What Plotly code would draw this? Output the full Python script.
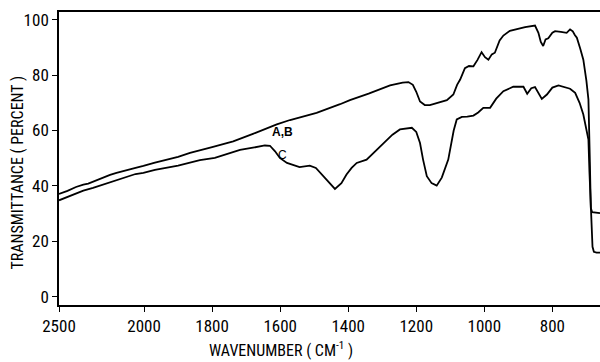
import plotly.graph_objects as go

# ---- data (wavenumber in cm^-1, transmittance in %) ----
wn_ab = [2500, 2450, 2400, 2357, 2328, 2300, 2250, 2200, 2162, 2100, 2050, 2004,
         1968, 1900, 1865, 1800, 1738, 1680, 1610, 1571, 1493, 1424, 1395, 1340,
         1277, 1240, 1223, 1210, 1200, 1189, 1175, 1160, 1130, 1110, 1091, 1080,
         1071, 1057, 1045, 1032, 1020, 1008, 998, 988, 978, 969, 955, 944, 925,
         905, 880, 851, 846, 841, 834, 827, 820, 812, 800, 792, 775, 758, 748,
         740, 734, 728, 718, 709, 700, 694, 690, 687, 683, 675, 660]
t_ab = [37.1, 38.2, 39.6, 40.5, 40.8, 41.5, 42.8, 44.0, 44.7, 45.8, 46.5, 47.2,
        48.4, 50.5, 51.9, 54.0, 56.1, 58.8, 62.2, 63.8, 66.4, 69.5, 71.0, 73.3,
        76.3, 77.3, 77.5, 76.5, 74.0, 70.5, 69.2, 69.2, 70.2, 71.0, 73.0, 76.5,
        78.4, 82.5, 83.3, 83.2, 85.5, 88.3, 86.5, 85.6, 87.5, 88.1, 92.5, 94.3,
        96.0, 96.7, 97.3, 97.9, 96.8, 95.3, 92.0, 90.5, 92.9, 93.3, 95.3, 95.9,
        95.6, 95.3, 96.5, 95.8, 94.5, 93.5, 89.5, 85.6, 78.0, 71.2, 50.0, 32.0,
        30.5, 30.3, 30.2]

wn_c = [2500, 2450, 2400, 2357, 2300, 2250, 2200, 2162, 2100, 2050, 2004, 1968,
        1900, 1836, 1792, 1750, 1718, 1680, 1645, 1630, 1615, 1601, 1580, 1543,
        1513, 1495, 1478, 1460, 1439, 1420, 1405, 1390, 1375, 1346, 1320, 1297,
        1270, 1248, 1213, 1200, 1189, 1180, 1169, 1155, 1140, 1125, 1106, 1090,
        1081, 1066, 1050, 1032, 1018, 1003, 983, 965, 944, 915, 885, 874, 862,
        851, 842, 831, 816, 800, 782, 765, 748, 733, 720, 709, 699, 694, 691,
        686, 682, 678, 670, 660]
t_c = [34.8, 36.0, 37.3, 38.3, 39.3, 40.3, 41.3, 42.3, 43.5, 44.3, 44.7, 45.8,
       47.3, 49.3, 50.1, 51.8, 53.0, 53.8, 54.6, 54.5, 52.5, 50.1, 48.3, 46.8,
       47.3, 46.5, 44.1, 41.5, 38.9, 41.0, 44.1, 46.5, 48.3, 49.5, 52.5, 55.5,
       58.5, 60.4, 61.0, 59.5, 55.5, 49.5, 43.5, 41.0, 40.1, 43.0, 49.5, 60.0,
       64.0, 64.9, 65.0, 65.4, 66.5, 68.2, 68.2, 71.5, 74.2, 75.8, 75.8, 73.3,
       75.3, 75.7, 73.5, 71.4, 73.0, 75.5, 76.3, 75.8, 75.1, 73.6, 70.0, 65.8,
       59.0, 56.7, 45.0, 30.0, 18.0, 16.2, 15.9, 15.9]

x_ticks = [2500, 2000, 1800, 1600, 1400, 1200, 1000, 800]
x_tick_labels = ["2500", "2000", "1800", "1600", "1400", "1200", "1000", "800"]
y_ticks = [0, 20, 40, 60, 80, 100]
y_tick_labels = ["0", "20", "40", "60", "80", "100"]


# spectrometer chart scale: above 2000 cm^-1 the scale is compressed by 2
def scale(w):
    return w if w <= 2000 else 2000 + (w - 2000) / 2.0


NARROW = "Roboto Condensed, DejaVu Sans Condensed, sans-serif"

fig = go.Figure()
fig.add_trace(go.Scatter(x=[scale(w) for w in wn_ab], y=t_ab, mode="lines",
                         line=dict(color="black", width=1.8), showlegend=False,
                         name="A,B"))
fig.add_trace(go.Scatter(x=[scale(w) for w in wn_c], y=t_c, mode="lines",
                         line=dict(color="black", width=1.8), showlegend=False,
                         name="C"))

fig.add_annotation(x=scale(1593), y=59.5, text="<b>A,B</b>", showarrow=False,
                   font=dict(family="Liberation Sans, Arial", size=12, color="black"))
fig.add_annotation(x=scale(1593), y=51, text="C", showarrow=False,
                   font=dict(family="Liberation Sans, Arial", size=12, color="black"))

fig.add_annotation(xref="paper", yref="paper", x=-0.0758, y=0.452,
                   xanchor="center", yanchor="middle",
                   text="TRANSMITTANCE ( PERCENT )", textangle=-90, showarrow=False,
                   font=dict(family=NARROW, size=16, color="black"))
fig.add_annotation(xref="paper", yref="paper", x=0.411, y=-0.1945,
                   xanchor="center", yanchor="bottom",
                   text="WAVENUMBER ( CM<sup>-1</sup> )", showarrow=False,
                   font=dict(family=NARROW, size=16, color="black"))

fig.update_layout(
    width=600, height=362,
    margin=dict(l=59, r=0, t=12, b=57),
    plot_bgcolor="white", paper_bgcolor="white",
    xaxis=dict(range=[scale(2500), 660], tickvals=[scale(v) for v in x_ticks],
               ticktext=x_tick_labels, ticks="outside", ticklen=5, tickwidth=1.3,
               tickcolor="black", showline=True, linecolor="black", linewidth=1.6,
               mirror=True, showgrid=False, zeroline=False,
               tickfont=dict(family=NARROW, size=17, color="black")),
    yaxis=dict(range=[-3, 102.8], tickvals=y_ticks, ticktext=y_tick_labels,
               ticks="outside", ticklen=5, tickwidth=1.3, tickcolor="black",
               showline=True, linecolor="black", linewidth=1.6, showgrid=False,
               zeroline=False, ticklabelstandoff=0,
               tickfont=dict(family=NARROW, size=17, color="black")),
)

fig.write_html("out.html")
